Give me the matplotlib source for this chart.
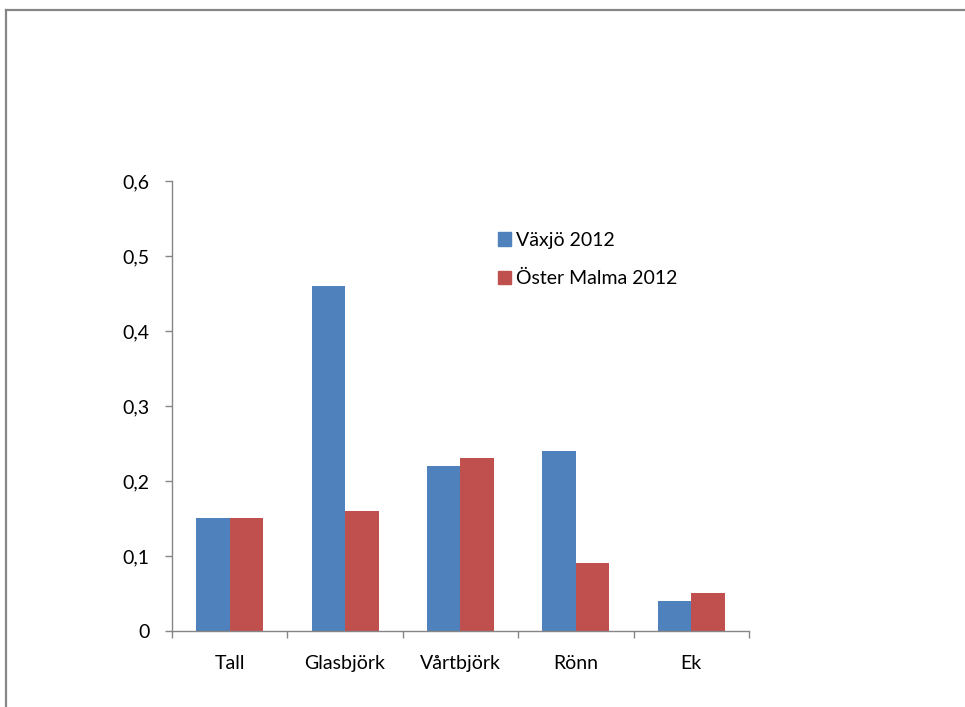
import matplotlib.pyplot as plt
import numpy as np
from matplotlib.lines import Line2D
from matplotlib.patches import Patch

plt.rcParams['font.family'] = ['Lato', 'DejaVu Sans']

# tree species and shares per site
species = ['Tall', 'Glasbjörk', 'Vårtbjörk', 'Rönn', 'Ek']
vaxjo = [0.15, 0.46, 0.22, 0.24, 0.04]
oster_malma = [0.15, 0.16, 0.23, 0.09, 0.05]
series_names = ['Växjö 2012', 'Öster Malma 2012']
yticks = [0, 0.1, 0.2, 0.3, 0.4, 0.5, 0.6]

blue = '#4F81BD'
red = '#C0504D'
gray = '#868686'

fig = plt.figure(figsize=(9.65, 7.07), dpi=100)
ax = fig.add_axes([0.1782, 0.1075, 0.598, 0.6365])

x = np.arange(len(species))
w = 0.29
ax.bar(x - w / 2, vaxjo, w, color=blue)
ax.bar(x + w / 2, oster_malma, w, color=red)

ax.set_xlim(-0.5, len(species) - 0.5)
ax.set_ylim(0, 0.6)
ax.set_yticks(yticks)
ax.set_yticklabels([('%g' % v).replace('.', ',') for v in yticks])

# ticks between categories, labels centred on the groups
ax.set_xticks(np.arange(-0.5, len(species), 1.0))
ax.set_xticklabels([])
ax.set_xticks(x, minor=True)
ax.set_xticklabels(species, minor=True)
ax.tick_params(axis='x', which='minor', length=0, pad=17, labelsize=14)
ax.tick_params(axis='x', which='major', length=5, color=gray, width=1)
ax.tick_params(axis='y', length=5, color=gray, width=1, labelsize=14, pad=11)

for s in ['top', 'right']:
    ax.spines[s].set_visible(False)
for s in ['left', 'bottom']:
    ax.spines[s].set_color(gray)
    ax.spines[s].set_linewidth(1)

handles = [Patch(color=blue), Patch(color=red)]
fig.legend(handles, series_names, loc='upper left',
           bbox_to_anchor=(0.498, 0.697), frameon=False, fontsize=14,
           handlelength=0.65, handleheight=0.7, handletextpad=0.25,
           labelspacing=1.1)

# outer frame, only top and left edges show
fig.add_artist(Line2D([6 / 965, 1], [1 - 10 / 707] * 2, color=gray, lw=1.6))
fig.add_artist(Line2D([6 / 965] * 2, [0, 1 - 10 / 707], color=gray, lw=1.6))

fig.savefig('out.png', dpi=100)
